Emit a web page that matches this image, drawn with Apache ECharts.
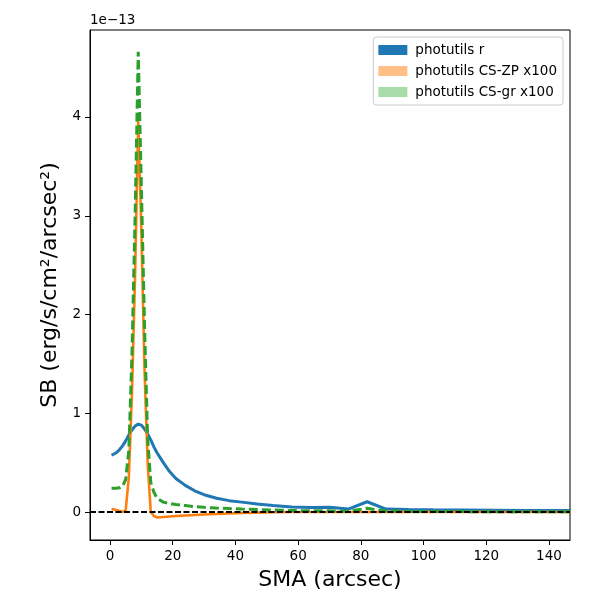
<!DOCTYPE html>
<html>
<head>
<meta charset="utf-8">
<script src="https://cdn.jsdelivr.net/npm/echarts@6/dist/echarts.min.js"></script>
<style>
  html, body { margin: 0; padding: 0; background: #fff; }
  #chart { width: 600px; height: 600px; }
</style>
</head>
<body>
<div id="chart"></div>
<script>
// semi-major axis (arcsec)
const sma = [0.5, 1, 2, 3, 4, 5, 6, 7, 8, 9, 10, 11, 12, 13, 14, 15, 17, 19, 21, 24, 27, 30, 34, 38, 42, 47, 52, 58, 64, 70, 76, 82, 88, 95, 103, 112, 122, 133, 147];

// surface brightness, units of 1e-13
const sbR = [0.575, 0.58, 0.60, 0.63, 0.67, 0.72, 0.78, 0.83, 0.87, 0.89, 0.88, 0.84, 0.79, 0.73, 0.66, 0.60, 0.50, 0.41, 0.34, 0.27, 0.215, 0.175, 0.14, 0.115, 0.10, 0.08, 0.065, 0.05, 0.045, 0.048, 0.03, 0.104, 0.03, 0.025, 0.022, 0.02, 0.018, 0.016, 0.015];
const csZp = [0.03, 0.03, 0.02, 0.01, 0.0, 0.02, 0.35, 1.2, 2.4, 3.97, 2.85, 1.45, 0.5, 0.0, -0.04, -0.055, -0.05, -0.045, -0.04, -0.035, -0.03, -0.025, -0.02, -0.015, -0.01, -0.006, -0.003, 0, 0, 0, 0, 0, 0, 0, 0, 0, 0, 0, 0];
const csGr = [0.24, 0.24, 0.24, 0.245, 0.26, 0.33, 0.62, 1.6, 3.0, 4.66, 3.3, 1.9, 0.75, 0.3, 0.2, 0.14, 0.1, 0.085, 0.075, 0.065, 0.055, 0.047, 0.04, 0.035, 0.03, 0.025, 0.02, 0.015, 0.012, 0.012, 0.008, 0.037, 0.01, 0.006, 0.005, 0.004, 0.003, 0.003, 0.003];

const xTicks = [0, 20, 40, 60, 80, 100, 120, 140];
const yTicks = [0, 1, 2, 3, 4];

const seriesNames = ['photutils r', 'photutils CS-ZP x100', 'photutils CS-gr x100'];

const pairs = (ys) => sma.map((x, i) => [x, ys[i]]);

const font = 'DejaVu Sans';

const chart = echarts.init(document.getElementById('chart'));

const option = {
    animation: false,
    backgroundColor: '#fff',
    textStyle: { fontFamily: font },
    grid: {
        left: 90, right: 30, top: 30, bottom: 60,
        show: true, borderColor: '#000', borderWidth: 1
    },
    graphic: [{
        type: 'text', left: 90, top: 13,
        style: { text: '1e\u221213', fontSize: 13.5, fontFamily: font, fill: '#000' }
    }],
    legend: {
        orient: 'vertical',
        right: 37, top: 37,
        padding: [6, 6, 6, 5],
        itemWidth: 29, itemHeight: 10, itemGap: 7,
        icon: 'rect',
        borderColor: '#cccccc', borderWidth: 1, borderRadius: 3,
        backgroundColor: 'rgba(255,255,255,0.8)',
        textStyle: { fontSize: 13.5, color: '#000', fontFamily: font, lineHeight: 14, padding: [0, 0, 0, 3] },
        data: [
            { name: seriesNames[0], itemStyle: { color: '#1f77b4' } },
            { name: seriesNames[1], itemStyle: { color: '#ffbf87' } },
            { name: seriesNames[2], itemStyle: { color: '#a9dca9' } }
        ]
    },
    xAxis: {
        type: 'value',
        min: -6.38, max: 146.7,
        name: 'SMA (arcsec)',
        nameLocation: 'middle', nameGap: 29,
        nameTextStyle: { fontSize: 22, color: '#000', fontFamily: font },
        axisLine: { onZero: false, lineStyle: { color: '#000' } },
        axisTick: { inside: false, length: 5, lineStyle: { color: '#000' }, customValues: xTicks },
        axisLabel: { color: '#000', fontSize: 13.5, margin: 9, customValues: xTicks },
        splitLine: { show: false }
    },
    yAxis: {
        type: 'value',
        min: -0.2835, max: 4.881,
        name: 'SB (erg/s/cm\u00B2/arcsec\u00B2)',
        nameLocation: 'middle', nameGap: 28,
        nameTextStyle: { fontSize: 22, color: '#000', fontFamily: font },
        axisLine: { onZero: false, lineStyle: { color: '#000' } },
        axisTick: { inside: false, length: 5, lineStyle: { color: '#000' }, customValues: yTicks },
        axisLabel: { color: '#000', fontSize: 13.5, margin: 9, customValues: yTicks },
        splitLine: { show: false }
    },
    series: [
        {
            name: seriesNames[0], type: 'line', data: pairs(sbR),
            showSymbol: false, symbol: 'none',
            itemStyle: { color: '#1f77b4' },
            lineStyle: { color: '#1f77b4', width: 3 }
        },
        {
            name: seriesNames[1], type: 'line', data: pairs(csZp),
            showSymbol: false, symbol: 'none',
            itemStyle: { color: '#ff7f0e' },
            lineStyle: { color: '#ff7f0e', width: 2.6 }
        },
        {
            name: seriesNames[2], type: 'line', data: pairs(csGr),
            showSymbol: false, symbol: 'none',
            itemStyle: { color: '#2ca02c' },
            lineStyle: { color: '#2ca02c', width: 3, type: [9, 4] },
            markLine: {
                silent: true,
                symbol: ['none', 'none'],
                label: { show: false },
                lineStyle: { color: '#000', width: 2, type: [6, 2.5] },
                data: [{ yAxis: 0 }]
            }
        }
    ]
};

chart.setOption(option);
</script>
</body>
</html>
